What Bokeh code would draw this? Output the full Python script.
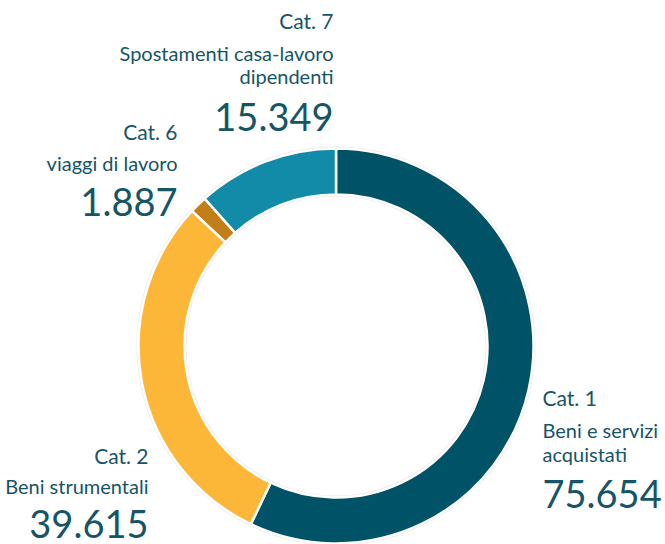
import numpy as np
from bokeh.plotting import figure
from bokeh.models import Range1d, ColumnDataSource
from bokeh.core.properties import value
from bokeh.embed import file_html
from bokeh.resources import INLINE

# ---- data ----
categories = ["Cat. 1", "Cat. 2", "Cat. 6", "Cat. 7"]
descriptions = ["Beni e servizi\nacquistati", "Beni strumentali", "viaggi di lavoro",
                "Spostamenti casa-lavoro\ndipendenti"]
values = [75654, 39615, 1887, 15349]
value_labels = ["75.654", "39.615", "1.887", "15.349"]
colors = ["#005266", "#FDB738", "#C27F18", "#128BA8"]

TEXT = "#165566"
FONT = "Lato"

vals = np.array(values, dtype=float)
frac = vals / vals.sum()
cum = np.concatenate([[0], np.cumsum(frac)])
start = np.pi / 2 - cum[:-1] * 2 * np.pi
end = np.pi / 2 - cum[1:] * 2 * np.pi

p = figure(width=665, height=544, output_backend="svg", toolbar_location=None,
           x_range=Range1d(0, 665), y_range=Range1d(-544, 0),
           min_border=0, outline_line_color=None)
p.axis.visible = False
p.grid.visible = False
p.background_fill_color = "white"

cx, cy = 335.5, -345.5
r_out, r_in = 197.5, 151.5

# soft grey shadow ring
p.annulus(x=[cx], y=[cy], inner_radius=r_in - 2, outer_radius=r_out + 2,
          fill_color="#ececec", line_color=None)

src = ColumnDataSource(dict(start=start, end=end, color=colors))
p.annular_wedge(x=cx, y=cy, inner_radius=r_in, outer_radius=r_out,
                start_angle="start", end_angle="end", direction="clock",
                fill_color="color", line_color="white", line_width=2.5, source=src)

# ---- labels ----
def label(x, y, text, size, align, shift):
    p.text(x=[x], y=[-(y - shift)], text=[text], text_font=value(FONT), text_font_size=size,
           text_color=TEXT, text_align=align, text_baseline="alphabetic")

small = "20px"
cat = "21px"
big = "38px"
S, B = 9, 14
# Cat. 7
label(333, 29, categories[3], cat, "right", S)
label(333, 61, "Spostamenti casa-lavoro", small, "right", S)
label(333, 84, "dipendenti", small, "right", S)
label(333, 130, value_labels[3], big, "right", B)
# Cat. 6
label(177, 140, categories[2], cat, "right", S)
label(177, 171, descriptions[2], small, "right", S)
label(177, 215, value_labels[2], big, "right", B)
# Cat. 1
label(542, 406, categories[0], cat, "left", S)
label(542, 438, "Beni e servizi", small, "left", S)
label(542, 462, "acquistati", small, "left", S)
label(542, 507, value_labels[0], big, "left", B)
# Cat. 2
label(148, 464, categories[1], cat, "right", S)
label(148, 494, descriptions[1], small, "right", S)
label(148, 537, value_labels[1], big, "right", B)

open("out.html", "w").write(file_html(p, INLINE))
